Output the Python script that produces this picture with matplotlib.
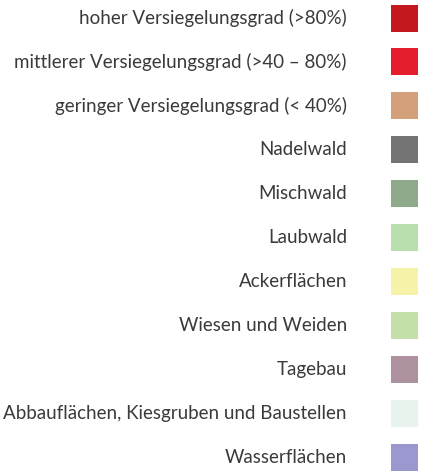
import matplotlib

matplotlib.use("Agg")
import matplotlib.pyplot as plt

labels = [
    "hoher Versiegelungsgrad (>80%)",
    "mittlerer Versiegelungsgrad (>40 – 80%)",
    "geringer Versiegelungsgrad (< 40%)",
    "Nadelwald",
    "Mischwald",
    "Laubwald",
    "Ackerflächen",
    "Wiesen und Weiden",
    "Tagebau",
    "Abbauflächen, Kiesgruben und Baustellen",
    "Wasserflächen",
]
colors = [
    "#c4171e",
    "#e41e2d",
    "#d3a07a",
    "#747474",
    "#8fa98b",
    "#badfae",
    "#f6f3a8",
    "#c4dfa7",
    "#ae919f",
    "#e8f3ee",
    "#9b97cf",
]

W, H = 439, 473
row_px = 43.95
top_px = 18

fig = plt.figure(figsize=(W / 100, H / 100), dpi=100)
ax = fig.add_axes([0, 0, 1, 1])
ax.set_xlim(0, W)
ax.set_ylim((H - top_px) / row_px, -top_px / row_px)
ax.axis("off")

rows = list(range(len(labels)))
ax.barh(rows, 27, left=391, height=27 / row_px, color=colors, edgecolor="none")

for i, lab in enumerate(labels):
    ax.text(347, i, lab, ha="right", va="center", fontsize=13.5,
            family="Lato", color="#3a3a3a")

fig.savefig("out.png", dpi=100)
